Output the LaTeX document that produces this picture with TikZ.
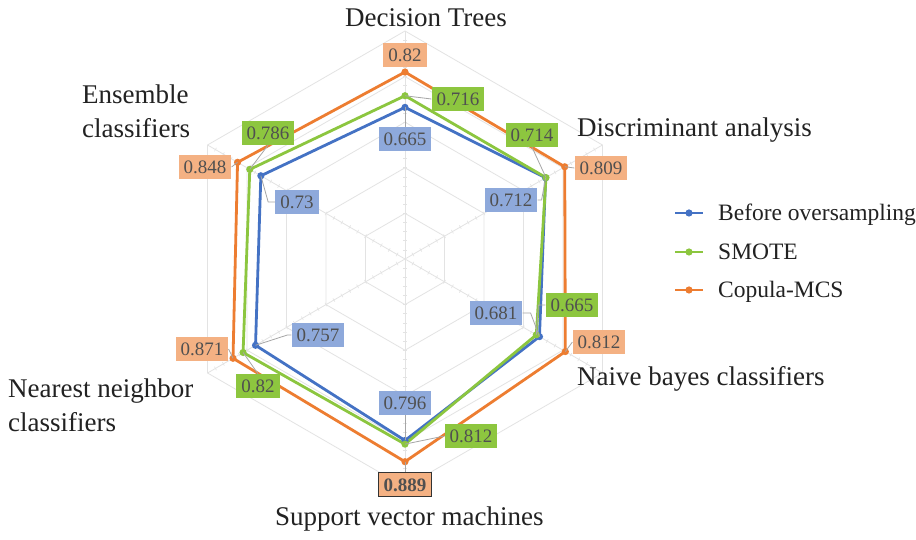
\documentclass[tikz,border=0pt]{standalone}
\usepackage{fontspec}
\setmainfont{Liberation Serif}
\usetikzlibrary{calc}

\definecolor{serblue}{HTML}{4472C4}
\definecolor{sergreen}{HTML}{8CC63F}
\definecolor{serorange}{HTML}{ED7D31}
\definecolor{boxblue}{HTML}{8EA9DB}
\definecolor{boxgreen}{HTML}{8DC63F}
\definecolor{boxorange}{HTML}{F4B183}
\definecolor{labeltext}{HTML}{505050}
\definecolor{gridgray}{HTML}{E3E3E3}
\definecolor{leadergray}{HTML}{A6A6A6}
\definecolor{cattext}{HTML}{222222}

\tikzset{
  gridline/.style={draw=gridgray, line width=0.8pt},
  series/.style={line width=2.8pt, line join=round},
  lbl/.style={font=\fontsize{19}{19}\selectfont, text=labeltext,
    inner xsep=5pt, inner ysep=5.5pt, text height=13pt, text depth=0pt},
  leader/.style={draw=leadergray, line width=0.8pt},
  cat/.style={font=\fontsize{27}{34.5}\selectfont, text=cattext,
    anchor=base west, inner sep=0pt, align=left},
  legtext/.style={font=\fontsize{23.5}{24}\selectfont, text=cattext,
    anchor=base west, inner sep=0pt},
}

\begin{document}
\begin{tikzpicture}[x=1pt,y=1pt]
\useasboundingbox (-405,-281) rectangle (511,259);
\fill[white] (-405,-281) rectangle (511,259);

% radial grid: rings every 0.2, spokes and minor ticks
\foreach \k in {1,...,5}{
  \draw[gridline] (90:{\k*45.6}) -- (30:{\k*45.6}) -- (-30:{\k*45.6})
    -- (-90:{\k*45.6}) -- (-150:{\k*45.6}) -- (150:{\k*45.6}) -- cycle;
}
\foreach \a in {90,30,-30,-90,-150,150}{
  \draw[gridline] (0,0) -- (\a:228);
  \foreach \t in {1,...,24}{
    \draw[gridline, line width=0.6pt, rotate=\a] ({\t*9.12},-2) -- ({\t*9.12},2);
  }
}

% data points (scale: 1.0 = 228)
\foreach \a/\v/\n in {90/0.665/b1, 30/0.712/b2, -30/0.681/b3, -90/0.796/b4, -150/0.757/b5, 150/0.73/b6,
                      90/0.716/g1, 30/0.714/g2, -30/0.665/g3, -90/0.812/g4, -150/0.82/g5, 150/0.786/g6,
                      90/0.82/o1, 30/0.809/o2, -30/0.812/o3, -90/0.889/o4, -150/0.871/o5, 150/0.848/o6}{
  \coordinate (p\n) at (\a:{\v*228});
}

% series
\draw[series, serblue]   (pb1) -- (pb2) -- (pb3) -- (pb4) -- (pb5) -- (pb6) -- cycle;
\draw[series, sergreen]  (pg1) -- (pg2) -- (pg3) -- (pg4) -- (pg5) -- (pg6) -- cycle;
\draw[series, serorange] (po1) -- (po2) -- (po3) -- (po4) -- (po5) -- (po6) -- cycle;
\foreach \n in {b1,b2,b3,b4,b5,b6}{ \fill[serblue] (p\n) circle (3.6); }
\foreach \n in {g1,g2,g3,g4,g5,g6}{ \fill[sergreen] (p\n) circle (3.6); }
\foreach \n in {o1,o2,o3,o4,o5,o6}{ \fill[serorange] (p\n) circle (3.6); }

% data labels
\node[lbl, fill=boxblue]   (b1) at (0,120)     {0.665};
\node[lbl, fill=boxblue]   (b2) at (106,59)    {0.712};
\node[lbl, fill=boxblue]   (b3) at (91,-54)    {0.681};
\node[lbl, fill=boxblue]   (b4) at (0,-144)    {0.796};
\node[lbl, fill=boxblue]   (b5) at (-87,-76)   {0.757};
\node[lbl, fill=boxblue]   (b6) at (-108,57)   {0.73};
\node[lbl, fill=boxgreen]  (g1) at (53,160)    {0.716};
\node[lbl, fill=boxgreen]  (g2) at (127,124)   {0.714};
\node[lbl, fill=boxgreen]  (g3) at (167,-46)   {0.665};
\node[lbl, fill=boxgreen]  (g4) at (66,-177)   {0.812};
\node[lbl, fill=boxgreen]  (g5) at (-147,-127) {0.82};
\node[lbl, fill=boxgreen]  (g6) at (-137,126)  {0.786};
\node[lbl, fill=boxorange] (o1) at (0,204)     {0.82};
\node[lbl, fill=boxorange] (o2) at (196,91)    {0.809};
\node[lbl, fill=boxorange] (o3) at (194,-83)   {0.812};
\node[lbl, fill=boxorange, draw=black!80, line width=1pt, font=\fontsize{19}{19}\selectfont\bfseries]
                           (o4) at (0,-226)    {0.889};
\node[lbl, fill=boxorange] (o5) at (-203,-90)  {0.871};
\node[lbl, fill=boxorange] (o6) at (-200,92)   {0.848};

% leader lines
\draw[leader] (pb1) -- (b1.north);
\draw[leader] (b2.east) -- ++(4,0) -- (pb2);
\draw[leader] (b3.east) -- ++(8,0) -- (pb3);
\draw[leader] (b4.south) -- (pb4);
\draw[leader] (pb5) -- ([xshift=-4pt]b5.west) -- (b5.west);
\draw[leader] (pb6) -- ([xshift=-7pt]b6.west) -- (b6.west);
\draw[leader] (pg1) -- (g1.west);
\draw[leader] (pg2) -- (g2.south);
\draw[leader] (g3.west) -- ++(-7,0) -- (pg3);
\draw[leader] (pg4) -- (g4.west);
\draw[leader] (pg5) -- (g5.north);
\draw[leader] (pg6) -- (g6.south);
\draw[leader] (po2) -- (o2.west);
\draw[leader] (po3) -- (o3.west);
\draw[leader] (po4) -- (o4.north);
\draw[leader] (po5) -- (o5.east);
\draw[leader] (po6) -- (o6.east);

% category labels (two-line labels are placed by their last baseline)
\node[cat] (catdt)  at (-60,232)   {Decision Trees};
\node[cat] (catda)  at (172,122)   {Discriminant analysis};
\node[cat] (catnb)  at (172,-127)  {Naive bayes classifiers};
\node[cat] (catsvm) at (-130,-267) {Support vector machines};
\node[cat] (catnn)  at (-397,-173) {Nearest neighbor\\classifiers};
\node[cat] (catec)  at (-323,121)  {Ensemble\\classifiers};

% legend
\coordinate (lgb1) at (270,46);  \coordinate (lgb2) at (298,46);
\coordinate (lgg1) at (270,7);   \coordinate (lgg2) at (298,7);
\coordinate (lgo1) at (270,-31); \coordinate (lgo2) at (298,-31);
\draw[series, serblue]   (lgb1) -- (lgb2);
\draw[series, sergreen]  (lgg1) -- (lgg2);
\draw[series, serorange] (lgo1) -- (lgo2);
\fill[serblue]   ($(lgb1)!0.5!(lgb2)$) circle (3.6);
\fill[sergreen]  ($(lgg1)!0.5!(lgg2)$) circle (3.6);
\fill[serorange] ($(lgo1)!0.5!(lgo2)$) circle (3.6);
\node[legtext] (legb) at (313,38)  {Before oversampling};
\node[legtext] (legg) at (313,-1)  {SMOTE};
\node[legtext] (lego) at (313,-39) {Copula-MCS};
\end{tikzpicture}
\end{document}
